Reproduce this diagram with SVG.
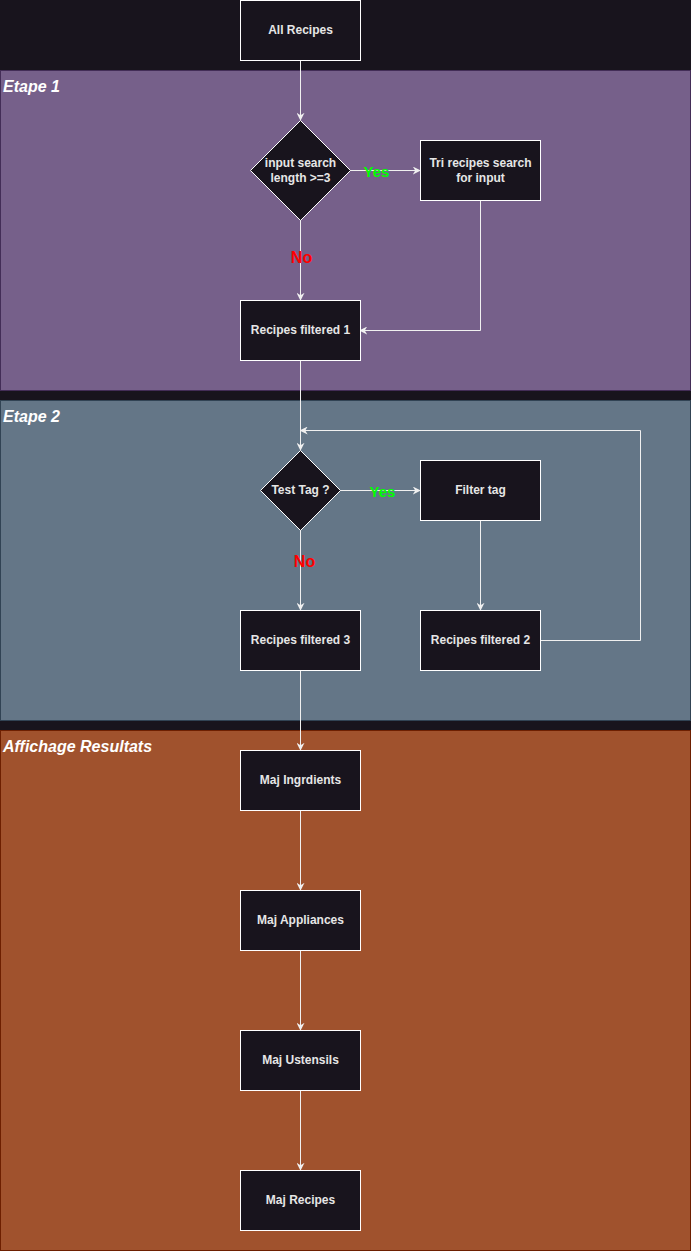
<svg xmlns="http://www.w3.org/2000/svg" width="691" height="1251" viewBox="0 0 691 1251">
<defs>
<style>
.node{fill:#18141d;stroke:#ffffff;stroke-width:1}
.t{font-family:"Liberation Sans",Arial,sans-serif;font-size:12px;font-weight:bold;fill:#e6e6e6;text-anchor:middle}
.lane{font-family:"Liberation Sans",Arial,sans-serif;font-size:16px;font-weight:bold;font-style:italic;fill:#ffffff}
.edge{fill:none;stroke:#f0f0f0;stroke-width:1}
.yes{font-family:"Liberation Sans",Arial,sans-serif;font-size:15px;font-weight:bold;fill:#00ff00;text-anchor:middle}
.no{font-family:"Liberation Sans",Arial,sans-serif;font-size:16px;font-weight:bold;fill:#ff0000;text-anchor:middle}
</style>
<marker id="arr" viewBox="0 0 10 10" refX="9" refY="5" markerWidth="8" markerHeight="8" markerUnits="userSpaceOnUse" orient="auto">
<path d="M0,0 L10,5 L0,10 L3,5 Z" fill="#f0f0f0"/>
</marker>
</defs>
<rect x="0" y="0" width="691" height="1251" fill="#18141d"/>
<g id="swimlanes">
<g id="etape1"><rect x="0.5" y="70.5" width="690" height="320" fill="#76608a" stroke="#432d57"/><text class="lane" x="3" y="92">Etape 1</text></g>
<g id="etape2"><rect x="0.5" y="400.5" width="690" height="320" fill="#647687" stroke="#314354"/><text class="lane" x="3" y="422">Etape 2</text></g>
<g id="affichage"><rect x="0.5" y="730.5" width="690" height="520" fill="#a0522d" stroke="#6d1f00"/><text class="lane" x="3" y="752">Affichage Resultats</text></g>
</g>
<g id="connectors">
<line class="edge" x1="300.5" y1="60" x2="300.5" y2="120" marker-end="url(#arr)"/>
<line class="edge" x1="350" y1="170.5" x2="420" y2="170.5" marker-end="url(#arr)"/>
<line class="edge" x1="300.5" y1="220" x2="300.5" y2="300" marker-end="url(#arr)"/>
<polyline class="edge" points="480.5,200 480.5,330.5 360,330.5" marker-end="url(#arr)"/>
<line class="edge" x1="300.5" y1="360" x2="300.5" y2="450" marker-end="url(#arr)"/>
<line class="edge" x1="340" y1="490.5" x2="420" y2="490.5" marker-end="url(#arr)"/>
<line class="edge" x1="300.5" y1="530" x2="300.5" y2="610" marker-end="url(#arr)"/>
<line class="edge" x1="480.5" y1="520" x2="480.5" y2="610" marker-end="url(#arr)"/>
<polyline class="edge" points="540,640.5 640.5,640.5 640.5,430.5 300.5,430.5" marker-end="url(#arr)"/>
<line class="edge" x1="300.5" y1="670" x2="300.5" y2="750" marker-end="url(#arr)"/>
<line class="edge" x1="300.5" y1="810" x2="300.5" y2="890" marker-end="url(#arr)"/>
<line class="edge" x1="300.5" y1="950" x2="300.5" y2="1030" marker-end="url(#arr)"/>
<line class="edge" x1="300.5" y1="1090" x2="300.5" y2="1170" marker-end="url(#arr)"/>
<text class="yes" x="376.5" y="177">Yes</text>
<text class="no" x="301.5" y="263">No</text>
<text class="yes" x="382.5" y="497">Yes</text>
<text class="no" x="304.5" y="567">No</text>
</g>
<g id="all-recipes"><rect class="node" x="240.5" y="0.5" width="120" height="60"/><text class="t" x="300.5" y="34">All Recipes</text></g>
<g id="input-search"><polygon class="node" points="300.5,120.5 350.5,170.5 300.5,220.5 250.5,170.5"/><text class="t" x="300.5" y="167">input search</text><text class="t" x="300.5" y="182">length &gt;=3</text></g>
<g id="tri-recipes"><rect class="node" x="420.5" y="140.5" width="120" height="60"/><text class="t" x="480.5" y="167">Tri recipes search</text><text class="t" x="480.5" y="182">for input</text></g>
<g id="recipes-filtered-1"><rect class="node" x="240.5" y="300.5" width="120" height="60"/><text class="t" x="300.5" y="334">Recipes filtered 1</text></g>
<g id="test-tag"><polygon class="node" points="300.5,450.5 340.5,490.5 300.5,530.5 260.5,490.5"/><text class="t" x="300.5" y="494">Test Tag ?</text></g>
<g id="filter-tag"><rect class="node" x="420.5" y="460.5" width="120" height="60"/><text class="t" x="480.5" y="494">Filter tag</text></g>
<g id="recipes-filtered-3"><rect class="node" x="240.5" y="610.5" width="120" height="60"/><text class="t" x="300.5" y="644">Recipes filtered 3</text></g>
<g id="recipes-filtered-2"><rect class="node" x="420.5" y="610.5" width="120" height="60"/><text class="t" x="480.5" y="644">Recipes filtered 2</text></g>
<g id="maj-ingrdients"><rect class="node" x="240.5" y="750.5" width="120" height="60"/><text class="t" x="300.5" y="784">Maj Ingrdients</text></g>
<g id="maj-appliances"><rect class="node" x="240.5" y="890.5" width="120" height="60"/><text class="t" x="300.5" y="924">Maj Appliances</text></g>
<g id="maj-ustensils"><rect class="node" x="240.5" y="1030.5" width="120" height="60"/><text class="t" x="300.5" y="1064">Maj Ustensils</text></g>
<g id="maj-recipes"><rect class="node" x="240.5" y="1170.5" width="120" height="60"/><text class="t" x="300.5" y="1204">Maj Recipes</text></g>
</svg>
